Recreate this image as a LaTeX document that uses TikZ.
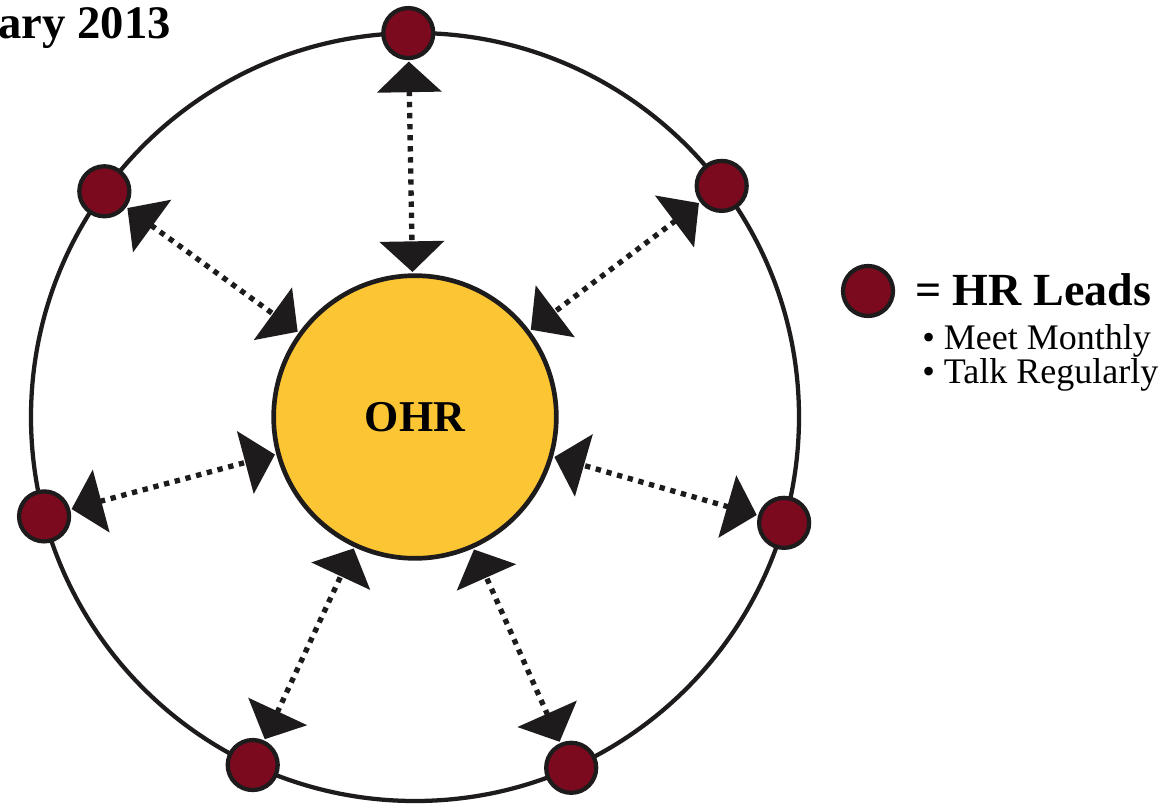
\documentclass[tikz,border=0pt]{standalone}
\usepackage{fontspec}
\setmainfont{Liberation Serif}
\usetikzlibrary{arrows.meta}
\definecolor{hrred}{RGB}{123,10,30}
\definecolor{ohrgold}{RGB}{252,197,52}
\definecolor{inkblack}{RGB}{30,27,28}

\begin{document}
\begin{tikzpicture}[x=0.75pt, y=0.75pt, >={Triangle[length=23pt,width=48pt]},
  hrdot/.style={circle, draw=inkblack, line width=3.2pt, fill=hrred, minimum size=37.5pt, inner sep=0pt},
  link/.style={<->, inkblack, line width=4pt, dash pattern=on 4pt off 4.3pt, shorten <=1pt, shorten >=1pt},
  ring/.style={inkblack, line width=3.2pt},
  legendtext/.style={anchor=base west, inner sep=0pt, font=\fontsize{27}{27}\selectfont}]
\useasboundingbox (-415,-386) rectangle (754,417);
\draw[ring] (0,0) circle (384);
\node[circle, draw=inkblack, line width=3.5pt, fill=ohrgold, minimum size=212pt,
  font=\fontsize{33}{33}\selectfont\bfseries] (ohr) at (0,0) {OHR};

% HR leads on the ring
\foreach \a [count=\i] in {91,144,195,245,294,344,37} {
  \node[hrdot] (hr\i) at (\a:384) {};
  \draw[link] (hr\i) -- (ohr);
}

% legend
\node[hrdot] (key) at (453,126) {};
\node[legendtext, font=\fontsize{34.5}{34.5}\selectfont\bfseries] (keytext) at (500,112) {= HR Leads};
\node[legendtext] (meet) at (507,68) {\textbullet\ Meet Monthly};
\node[legendtext] (talk) at (507,34) {\textbullet\ Talk Regularly};

\node[anchor=base east, inner sep=0pt, font=\fontsize{35}{35}\selectfont\bfseries] (title) at (-244,378) {ary 2013};
\end{tikzpicture}
\end{document}
